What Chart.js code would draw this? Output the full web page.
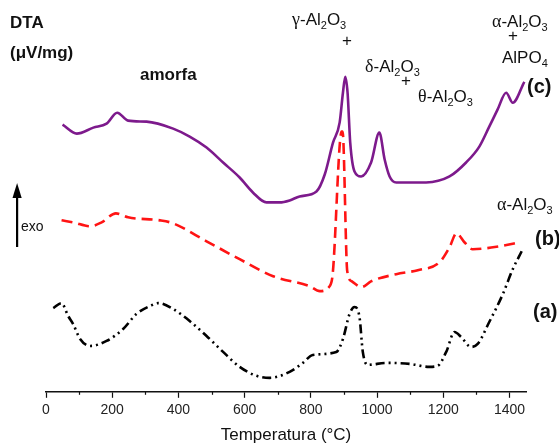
<!DOCTYPE html>
<html>
<head>
<meta charset="utf-8">
<script src="https://cdn.jsdelivr.net/npm/chart.js@4.4.1/dist/chart.umd.min.js"></script>
<style>
  body { margin: 0; background: #fff; }
  #wrap { position: relative; width: 559px; height: 446px; overflow: hidden; font-family: Arial, "Liberation Sans", sans-serif; color: #111; }
  #grafico { position: absolute; left: 0; top: 0; }
  .lbl { position: absolute; white-space: nowrap; line-height: 1; font-size: 17px; }
  .b { font-weight: bold; }
  .g { font-family: "Liberation Serif", "DejaVu Serif", serif; font-size: 18px; }
  sub { font-size: 11px; vertical-align: -4px; line-height: 0; }
</style>
</head>
<body>
<div id="wrap">
  <canvas id="grafico" width="559" height="446"></canvas>
  <div class="lbl b" style="left:10px;top:14px">DTA</div>
  <div class="lbl b" style="left:10px;top:44px">(μV/mg)</div>
  <div class="lbl b" style="left:140px;top:66px">amorfa</div>
  <div class="lbl" style="left:292px;top:10px"><span class="g">γ</span>-Al<sub>2</sub>O<sub>3</sub></div>
  <div class="lbl" style="left:342px;top:32px">+</div>
  <div class="lbl" style="left:365px;top:57px"><span class="g">δ</span>-Al<sub>2</sub>O<sub>3</sub></div>
  <div class="lbl" style="left:401px;top:72px">+</div>
  <div class="lbl" style="left:418px;top:87px"><span class="g">θ</span>-Al<sub>2</sub>O<sub>3</sub></div>
  <div class="lbl" style="left:492px;top:12px"><span class="g">α</span>-Al<sub>2</sub>O<sub>3</sub></div>
  <div class="lbl" style="left:508px;top:27px">+</div>
  <div class="lbl" style="left:502px;top:49px">AlPO<sub>4</sub></div>
  <div class="lbl b" style="left:527px;top:76px;font-size:20px">(c)</div>
  <div class="lbl" style="left:497px;top:195px"><span class="g">α</span>-Al<sub>2</sub>O<sub>3</sub></div>
  <div class="lbl b" style="left:535px;top:228px;font-size:20px">(b)</div>
  <div class="lbl b" style="left:533px;top:301px;font-size:20px">(a)</div>
  <div class="lbl" style="left:21px;top:219px;font-size:14px">exo</div>
</div>
<script>
// curva (c) - purple
const tempC = [50, 93, 143, 183, 215, 248, 304, 384, 434, 485, 535, 585, 625, 666, 706, 736, 766, 817, 842, 867, 887, 897, 904, 911, 919, 932, 952, 982, 1007, 1023, 1038, 1058, 1108, 1148, 1219, 1269, 1309, 1339, 1364, 1390, 1410, 1445];
const dtaC = [268, 259, 265, 269, 280, 272, 271, 264, 256, 245, 230, 215, 200, 190, 190, 192, 196, 201, 218, 250, 270, 300, 316, 300, 250, 221, 216, 230, 260, 233, 216, 210, 210, 210, 216, 230, 246, 266, 283, 300, 290, 311];

// curva (b) - red dashed
const tempB = [47, 82, 133, 168, 211, 248, 344, 384, 485, 585, 686, 796, 827, 857, 866, 893, 896, 910, 923, 953, 983, 1058, 1123, 1189, 1219, 1240, 1264, 1289, 1370, 1430];
const dtaB = [172, 170, 166, 170, 179, 175, 172, 169, 151, 133, 116, 106, 101, 106, 118, 261, 261, 121, 111, 105, 111, 118, 122, 130, 145, 159, 150, 143, 146, 150];

// curva (a) - black dash-dot-dot
const tempA = [22, 47, 67, 82, 103, 133, 183, 233, 273, 314, 339, 384, 434, 485, 535, 585, 636, 676, 736, 776, 806, 877, 897, 917, 932, 947, 957, 972, 1028, 1098, 1158, 1183, 1209, 1234, 1254, 1284, 1304, 1339, 1380, 1410, 1437];
const dtaA = [84, 89, 76, 68, 53, 46, 51, 63, 78, 86, 89, 83, 71, 56, 40, 25, 16, 14, 20, 29, 37, 40, 53, 78, 85, 75, 40, 27, 29, 28, 25, 26, 40, 60, 55, 45, 48, 70, 98, 123, 141];

const xTicks = [0, 200, 400, 600, 800, 1000, 1200, 1400];
const minorTicks = [100, 300, 500, 700, 900, 1100, 1300];

const pts = (xs, ys) => xs.map((x, i) => ({ x, y: ys[i] }));

// small ticks + exo arrow
const extras = {
    id: "extras",
    afterDraw(chart) {
        const ctx = chart.ctx;
        const sx = chart.scales.x;
        const yb = chart.chartArea.bottom;
        ctx.save();
        ctx.strokeStyle = "#111";
        ctx.lineWidth = 1.2;
        minorTicks.forEach(v => {
            const px = Math.round(sx.getPixelForValue(v)) + 0.5;
            ctx.beginPath();
            ctx.moveTo(px, yb);
            ctx.lineTo(px, yb + 3);
            ctx.stroke();
        });
        // arrow
        ctx.fillStyle = "#000";
        ctx.fillRect(16, 196, 2.2, 51);
        ctx.beginPath();
        ctx.moveTo(17.1, 183);
        ctx.lineTo(12.5, 198);
        ctx.lineTo(21.7, 198);
        ctx.closePath();
        ctx.fill();
        ctx.restore();
    }
};

new Chart(document.getElementById("grafico"), {
    type: "line",
    data: {
        datasets: [
            { label: "(c)", data: pts(tempC, dtaC), borderColor: "#7d1a8c", borderWidth: 2.6 },
            { label: "(b)", data: pts(tempB, dtaB), borderColor: "#ff1414", borderWidth: 2.6, borderDash: [11, 6] },
            { label: "(a)", data: pts(tempA, dtaA), borderColor: "#000", borderWidth: 2.6, borderDash: [9, 4, 2, 4, 2, 4] }
        ]
    },
    options: {
        responsive: false,
        animation: false,
        elements: {
            point: { radius: 0 },
            line: { cubicInterpolationMode: "monotone", fill: false }
        },
        layout: { padding: { left: 46, right: 33, top: 13, bottom: 0 } },
        plugins: { legend: { display: false }, tooltip: { enabled: false } },
        scales: {
            x: {
                type: "linear",
                min: 0,
                max: 1450,
                afterBuildTicks: s => { s.ticks = xTicks.map(v => ({ value: v })); },
                ticks: { color: "#222", font: { family: "Arial, 'Liberation Sans', sans-serif", size: 14 }, padding: 4, maxRotation: 0, callback: v => String(v) },
                grid: { drawOnChartArea: false, drawTicks: true, tickLength: 6, color: "#111", tickWidth: 1.2 },
                border: { display: true, color: "#111", width: 1.4 },
                title: { display: true, text: "Temperatura (°C)", color: "#111", font: { family: "Arial, 'Liberation Sans', sans-serif", size: 17 }, padding: { top: 3, bottom: 0 } }
            },
            y: { display: false, min: 0, max: 380 }
        }
    },
    plugins: [extras]
});
</script>
</body>
</html>
